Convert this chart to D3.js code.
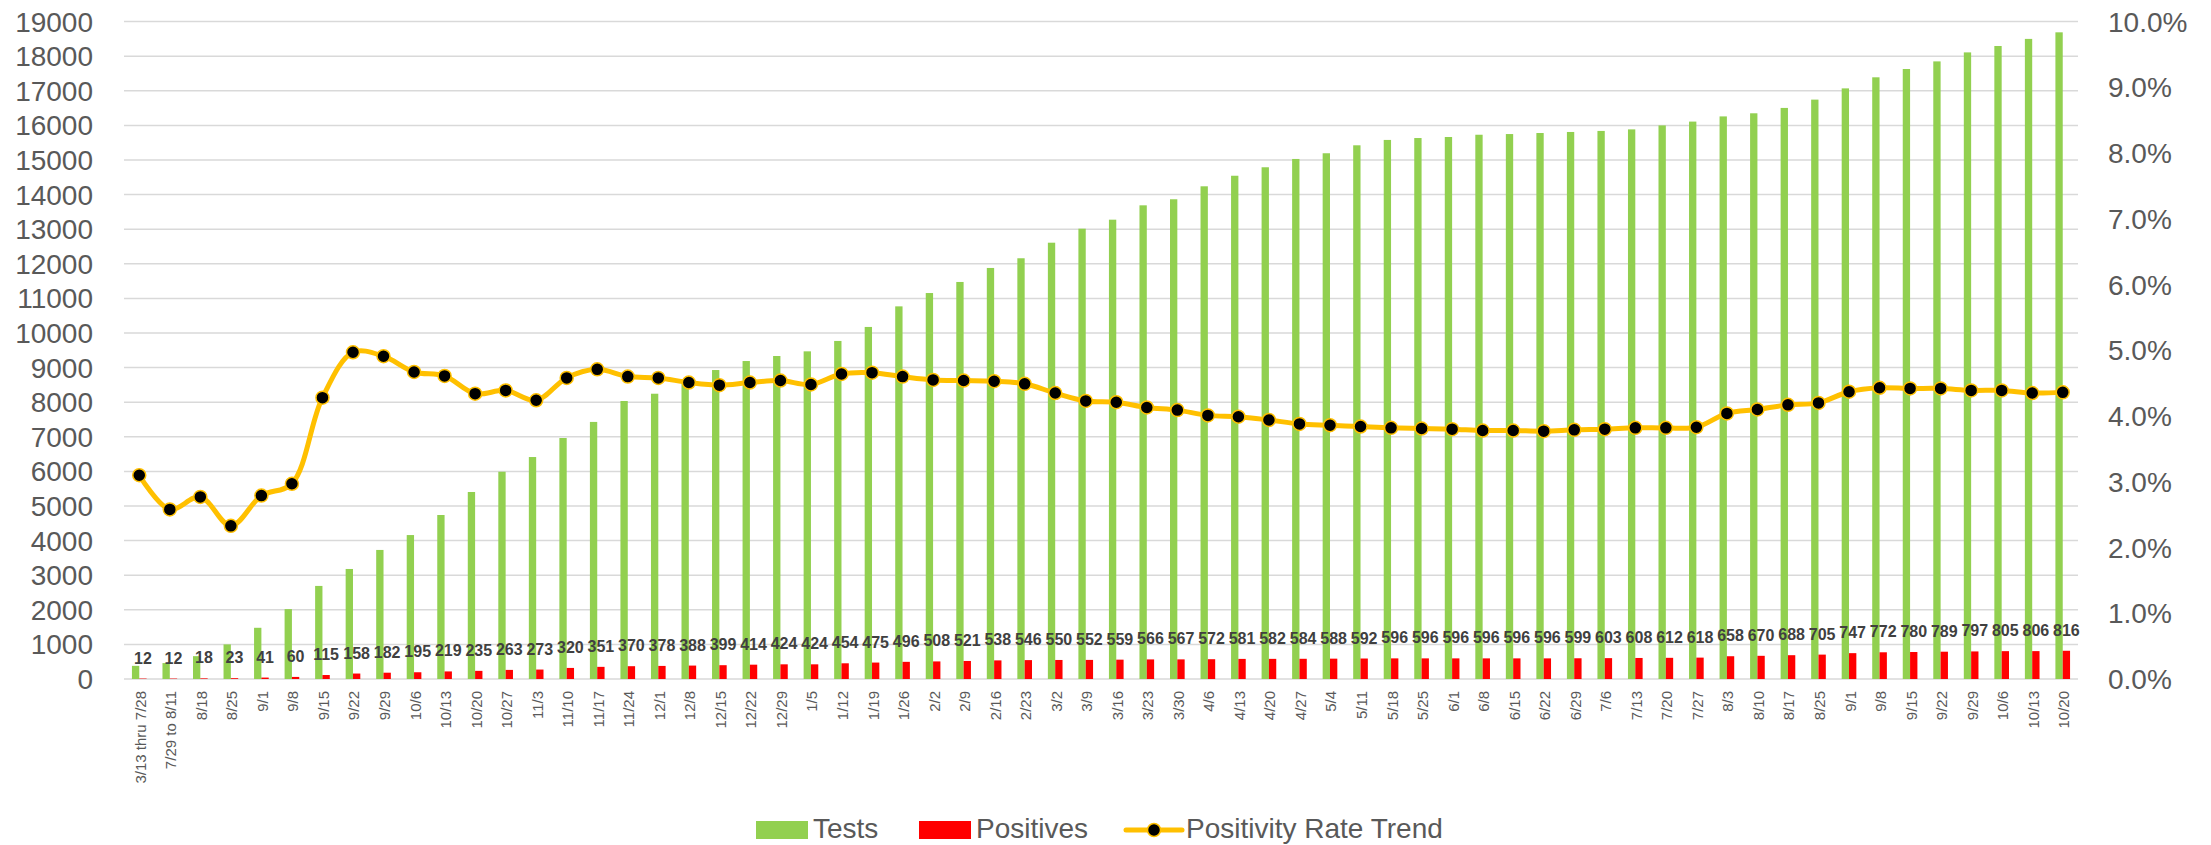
<!DOCTYPE html>
<html>
<head>
<meta charset="utf-8">
<script src="https://cdn.jsdelivr.net/npm/d3@7"></script>
<style>
  body { margin: 0; background: #fff; }
  svg text { font-family: "Liberation Sans", Arial, sans-serif; }
</style>
</head>
<body>
<svg id="chart" width="2211" height="845"></svg>
<script>
// week labels (some dates repeat a year later, so the scale works on indices)
const categories = [
  "3/13 thru 7/28", "7/29 to 8/11", "8/18", "8/25", "9/1", "9/8", "9/15", "9/22", "9/29",
  "10/6", "10/13", "10/20", "10/27", "11/3", "11/10", "11/17", "11/24", "12/1", "12/8",
  "12/15", "12/22", "12/29", "1/5", "1/12", "1/19", "1/26", "2/2", "2/9", "2/16", "2/23",
  "3/2", "3/9", "3/16", "3/23", "3/30", "4/6", "4/13", "4/20", "4/27", "5/4", "5/11",
  "5/18", "5/25", "6/1", "6/8", "6/15", "6/22", "6/29", "7/6", "7/13", "7/20", "7/27",
  "8/3", "8/10", "8/17", "8/25", "9/1", "9/8", "9/15", "9/22", "9/29", "10/6", "10/13", "10/20"
];

// cumulative tests
const tests = [
  380, 460, 660, 1000, 1480, 2020, 2690, 3180, 3730,
  4160, 4740, 5405, 5990, 6415, 6965, 7430, 8035, 8245, 8600,
  8930, 9190, 9335, 9470, 9770, 10175, 10770, 11155, 11475, 11880, 12160,
  12610, 13015, 13275, 13690, 13865, 14240, 14545, 14790, 15030, 15195, 15425,
  15580, 15635, 15665, 15730, 15750, 15780, 15810, 15840, 15885, 16000, 16110,
  16260, 16350, 16505, 16745, 17070, 17390, 17630, 17850, 18110, 18295, 18500, 18690
];

// cumulative positives (data labels)
const positives = [
  12, 12, 18, 23, 41, 60, 115, 158, 182,
  195, 219, 235, 263, 273, 320, 351, 370, 378, 388,
  399, 414, 424, 424, 454, 475, 496, 508, 521, 538, 546,
  550, 552, 559, 566, 567, 572, 581, 582, 584, 588, 592,
  596, 596, 596, 596, 596, 596, 599, 603, 608, 612, 618,
  658, 670, 688, 705, 747, 772, 780, 789, 797, 805, 806, 816
];

// positivity rate trend, in percent
const positivityRate = [
  3.10, 2.58, 2.77, 2.33, 2.79, 2.97, 4.28, 4.97, 4.91,
  4.67, 4.61, 4.34, 4.39, 4.24, 4.58, 4.71, 4.60, 4.58, 4.51,
  4.47, 4.51, 4.54, 4.48, 4.64, 4.66, 4.60, 4.55, 4.54, 4.53, 4.49,
  4.35, 4.23, 4.21, 4.13, 4.09, 4.01, 3.99, 3.94, 3.88, 3.86, 3.84,
  3.82, 3.81, 3.80, 3.78, 3.78, 3.77, 3.79, 3.80, 3.82, 3.82, 3.83,
  4.04, 4.10, 4.17, 4.20, 4.37, 4.43, 4.42, 4.42, 4.39, 4.39, 4.35, 4.36
];

const leftTicks = d3.range(0, 19001, 1000);
const rightTicks = d3.range(0, 10.001, 1);

const legendItems = [
  { label: "Tests", type: "rect", color: "#92D050" },
  { label: "Positives", type: "rect", color: "#FF0000" },
  { label: "Positivity Rate Trend", type: "line", color: "#FFC000" }
];

const svg = d3.select("#chart");
const plotLeft = 124, plotRight = 2078, plotTop = 21.6, plotBottom = 679;
const idx = d3.range(categories.length);

const x = d3.scaleBand().domain(idx).range([plotLeft, plotRight]).padding(0);
const y = d3.scaleLinear().domain([0, 19000]).range([plotBottom, plotTop]);
const y2 = d3.scaleLinear().domain([0, 10]).range([plotBottom, plotTop]);

const bw = x.bandwidth() * 0.24;
const cx = i => x(i) + x.bandwidth() / 2;

// gridlines
svg.append("g")
  .selectAll("line")
  .data(leftTicks)
  .join("line")
  .attr("x1", plotLeft).attr("x2", plotRight)
  .attr("y1", d => y(d)).attr("y2", d => y(d))
  .attr("stroke", "#D9D9D9")
  .attr("stroke-width", 1.5);

// left axis labels
svg.append("g")
  .selectAll("text")
  .data(leftTicks)
  .join("text")
  .attr("x", 93)
  .attr("y", d => y(d))
  .attr("dy", "0.36em")
  .attr("text-anchor", "end")
  .attr("font-size", 28)
  .attr("fill", "#595959")
  .text(d => d);

// right axis labels
svg.append("g")
  .selectAll("text")
  .data(rightTicks)
  .join("text")
  .attr("x", 2108)
  .attr("y", d => y2(d))
  .attr("dy", "0.36em")
  .attr("font-size", 28)
  .attr("fill", "#595959")
  .text(d => d.toFixed(1) + "%");

// category labels, rotated
svg.append("g")
  .selectAll("text")
  .data(idx)
  .join("text")
  .attr("transform", i => `translate(${cx(i) + 1},691) rotate(-90)`)
  .attr("text-anchor", "end")
  .attr("dominant-baseline", "central")
  .attr("font-size", 15)
  .attr("fill", "#595959")
  .text(i => categories[i]);

// tests bars
svg.append("g")
  .selectAll("rect")
  .data(idx)
  .join("rect")
  .attr("x", i => cx(i) - bw)
  .attr("width", bw)
  .attr("y", i => y(tests[i]))
  .attr("height", i => y(0) - y(tests[i]))
  .attr("fill", "#92D050");

// positives bars
svg.append("g")
  .selectAll("rect")
  .data(idx)
  .join("rect")
  .attr("x", i => cx(i))
  .attr("width", bw)
  .attr("y", i => y(positives[i]))
  .attr("height", i => y(0) - y(positives[i]))
  .attr("fill", "#FF0000");

// positives data labels
svg.append("g")
  .selectAll("text")
  .data(idx)
  .join("text")
  .attr("x", i => cx(i) + bw / 2)
  .attr("y", i => y(positives[i]) - 15)
  .attr("text-anchor", "middle")
  .attr("font-size", 16)
  .attr("font-weight", "bold")
  .attr("font-family", "'Liberation Sans Narrow', 'DejaVu Sans Condensed', 'Liberation Sans', sans-serif")
  .attr("fill", "#404040")
  .text(i => positives[i]);

// positivity trend line
const line = d3.line()
  .x(i => cx(i))
  .y(i => y2(positivityRate[i]))
  .curve(d3.curveCatmullRom.alpha(0.5));

svg.append("path")
  .datum(idx)
  .attr("d", line)
  .attr("fill", "none")
  .attr("stroke", "#FFC000")
  .attr("stroke-width", 5)
  .attr("stroke-linejoin", "round");

svg.append("g")
  .selectAll("circle")
  .data(idx)
  .join("circle")
  .attr("cx", i => cx(i))
  .attr("cy", i => y2(positivityRate[i]))
  .attr("r", 6.5)
  .attr("fill", "#000")
  .attr("stroke", "#FFC000")
  .attr("stroke-width", 1.5);

// legend
const legendX = [756, 919, 1126];
const lg = svg.append("g");
legendItems.forEach((item, i) => {
  const g = lg.append("g").attr("transform", `translate(${legendX[i]},830)`);
  let textX;
  if (item.type === "rect") {
    g.append("rect").attr("x", 0).attr("y", -9).attr("width", 52).attr("height", 18).attr("fill", item.color);
    textX = 57;
  } else {
    g.append("line").attr("x1", 0).attr("x2", 56).attr("y1", 0).attr("y2", 0)
      .attr("stroke", item.color).attr("stroke-width", 5).attr("stroke-linecap", "round");
    g.append("circle").attr("cx", 28).attr("cy", 0).attr("r", 6.5)
      .attr("fill", "#000").attr("stroke", item.color).attr("stroke-width", 1.5);
    textX = 60;
  }
  g.append("text")
    .attr("x", textX)
    .attr("y", 8)
    .attr("font-size", 28)
    .attr("fill", "#595959")
    .text(item.label);
});
</script>
</body>
</html>
